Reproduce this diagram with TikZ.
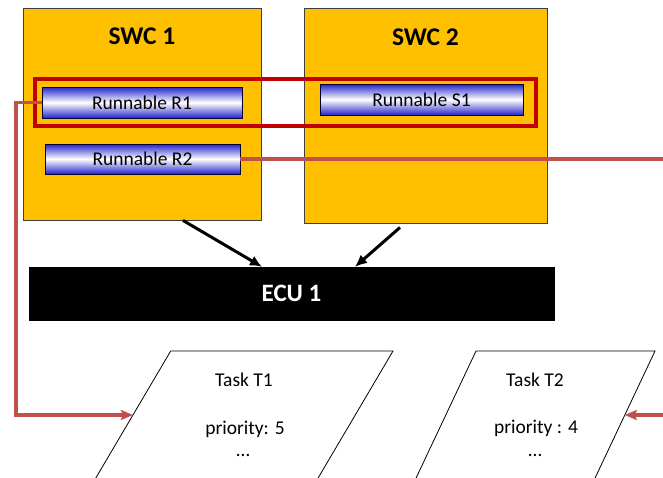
\documentclass[tikz,border=0pt]{standalone}
\usepackage{fontspec}
\setmainfont{Carlito}
\usetikzlibrary{arrows.meta,calc}
\definecolor{swcfill}{HTML}{FFC000}
\definecolor{selred}{HTML}{C00000}
\definecolor{linkred}{HTML}{C0504D}
\definecolor{runblue}{HTML}{2424CC}
\begin{document}
\begin{tikzpicture}[x=1pt,y=-1pt,
  swcbox/.style={draw=black!75, line width=0.9pt, fill=swcfill, inner sep=0pt},
  swclabel/.style={font=\fontsize{25.5}{28}\selectfont\bfseries, inner sep=0pt},
  runnable/.style={draw=black!80!blue, line width=0.9pt, inner sep=0pt,
    top color=runblue, bottom color=runblue, middle color=white,
    font=\fontsize{19.5}{22}\selectfont},
  ecubar/.style={fill=black, draw=black, inner sep=0pt,
    font=\fontsize{25}{28}\selectfont\bfseries, text=white},
  tasktext/.style={font=\fontsize{19.5}{22}\selectfont, inner sep=0pt, anchor=base},
  taskshape/.style={draw=black, line width=0.8pt, fill=white},
  maparrow/.style={line width=3pt, -{Latex[length=12pt,width=11pt]}},
  linkline/.style={draw=linkred, line width=3.6pt},
  linkarrow/.style={linkline, -{Stealth[length=12pt,width=10pt,inset=2pt]}}
]
\useasboundingbox (0,0) rectangle (663,477);
\clip (0,0) rectangle (663,477);

% software components
\node[swcbox, minimum width=238pt, minimum height=212pt] (SWC1) at (142,114) {};
\node[swcbox, minimum width=243pt, minimum height=215pt] (SWC2) at (425.5,115.5) {};
\node[swclabel] (SWC1lbl) at (142,36) {SWC 1};
\node[swclabel] (SWC2lbl) at (425.5,37.5) {SWC 2};

% runnables
\node[runnable, minimum width=200pt, minimum height=31pt] (R1) at (142,102.5) {Runnable R1};
\node[runnable, minimum width=195pt, minimum height=30pt] (R2) at (142.5,159) {Runnable R2};
\node[runnable, minimum width=203pt, minimum height=31pt] (S1) at (421.5,99.5) {Runnable S1};

% grouping frame around R1 and S1
\node[draw=selred, line width=3.2pt, inner sep=0pt,
  minimum width=501pt, minimum height=47pt] (grp) at (285.5,102.5) {};

% ECU
\node[ecubar, minimum width=525pt, minimum height=53pt] (ECU) at (291.5,293.5) {ECU 1};

% mapping of components onto the ECU
\draw[maparrow] ([xshift=41pt]SWC1.south) -- ([xshift=-29.5pt]ECU.north);
\draw[maparrow] ([xshift=-25.5pt,yshift=-4pt]SWC2.south) -- ([xshift=63.5pt]ECU.north);

% task T1
\coordinate (T1tl) at (170.7,351);
\coordinate (T1tr) at (393,351);
\coordinate (T1br) at (317.5,479);
\coordinate (T1bl) at (95.2,479);
\draw[taskshape] (T1bl) -- (T1tl) -- (T1tr) -- (T1br);
\coordinate (T1in) at ($(T1bl)!0.5!(T1tl)$);
\node[tasktext] (T1) at (244,386) {Task T1};
\node[tasktext] (T1p) at (245,434) {priority: 5};
\node[tasktext] (T1d) at (243,456) {…};

% task T2
\coordinate (T2tl) at (476,351);
\coordinate (T2tr) at (655,351);
\coordinate (T2br) at (594.6,479);
\coordinate (T2bl) at (415.6,479);
\draw[taskshape] (T2bl) -- (T2tl) -- (T2tr) -- (T2br);
\coordinate (T2in) at ($(T2br)!0.5!(T2tr)$);
\node[tasktext] (T2) at (535,386) {Task T2};
\node[tasktext] (T2p) at (536,433) {priority : 4};
\node[tasktext] (T2d) at (535,456) {…};

% runnable-to-task mapping
\coordinate (Lturn) at (16,102.5);
\coordinate (Rturn) at (690,159);
\draw[linkarrow] (R1.west) -- (Lturn) |- (T1in);
\draw[linkarrow] (R2.east) -- (Rturn) |- (T2in);
\end{tikzpicture}
\end{document}
